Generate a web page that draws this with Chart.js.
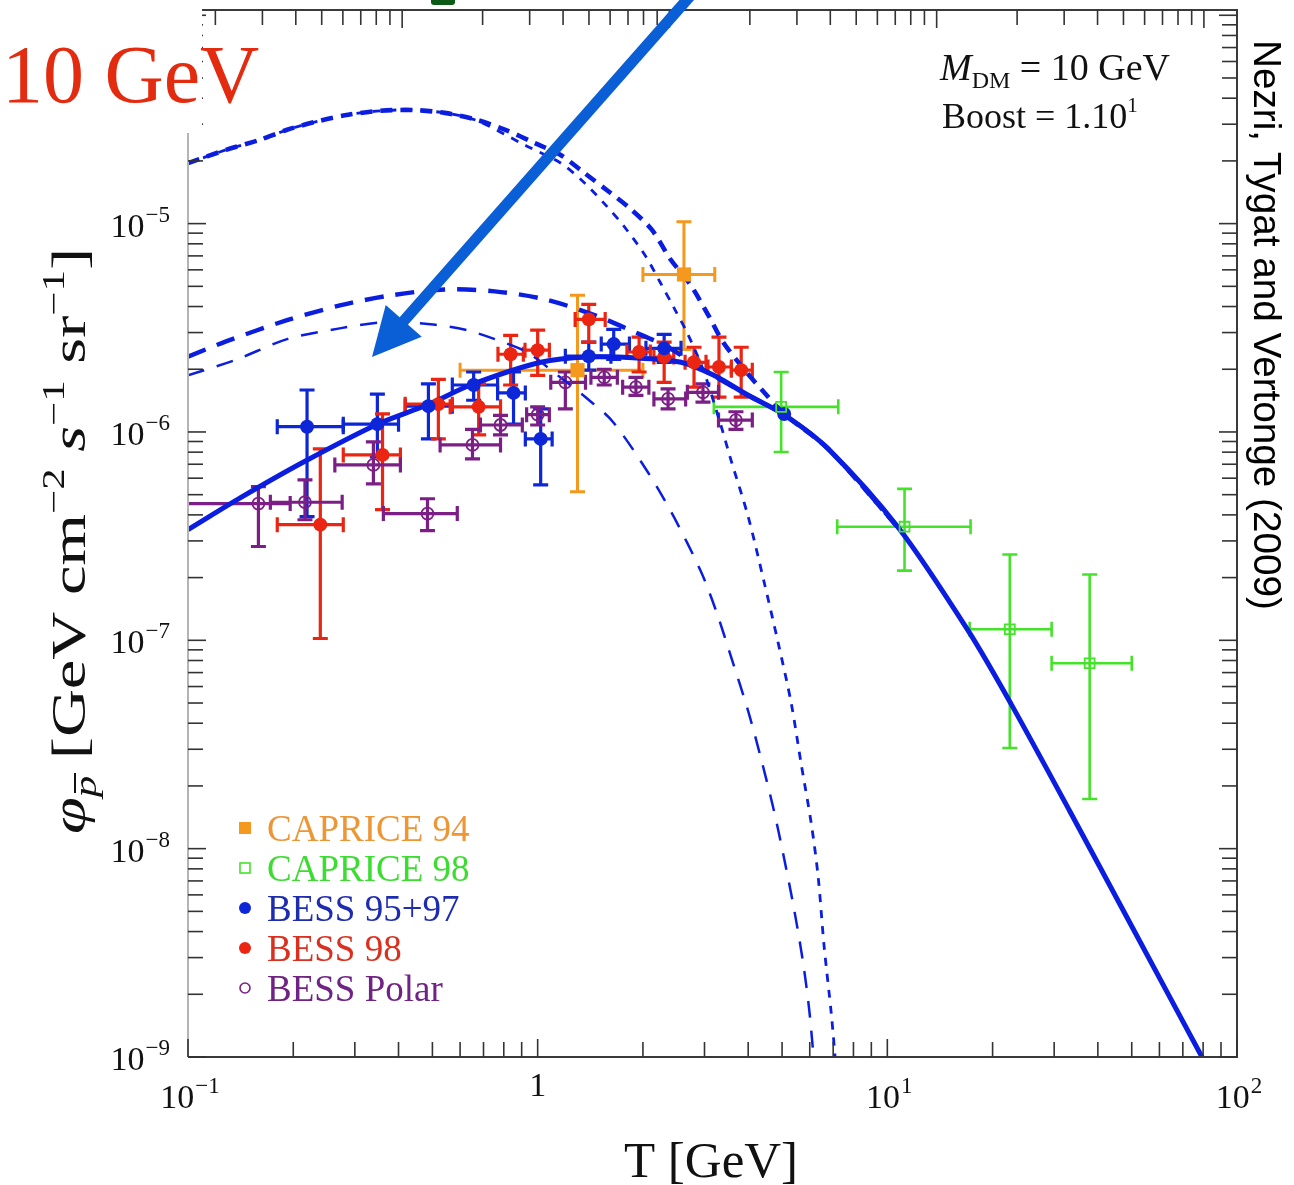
<!DOCTYPE html>
<html>
<head>
<meta charset="utf-8">
<script src="https://cdn.jsdelivr.net/npm/chart.js@4.4.0/dist/chart.umd.min.js"></script>
<style>
    html, body { margin: 0; padding: 0; background: #fff; }
    #wrap { position: relative; width: 1294px; height: 1185px; }
</style>
</head>
<body>
<div id="wrap"><canvas id="fluxChart" width="1294" height="1185"></canvas></div>
<script>
// ---- axis ranges ----
const xMin = 0.1, xMax = 100;
const yMin = 1e-9, yMax = 1.06e-4;
const xTickDecades = [-1, 0, 1, 2];
const yTickDecades = [-9, -8, -7, -6, -5];

// ---- model curves (T in GeV, flux) ----
const bgT = [0.1, 0.141, 0.214, 0.348, 0.484, 0.643, 1.02, 1.39, 1.97, 2.57, 3.19, 4.0, 5.07, 6.78, 10.8, 17.1, 22.6, 33.2, 50.0, 79.4, 90];
const bgFlux = [3.40e-7, 4.83e-7, 7.18e-7, 1.09e-6, 1.35e-6, 1.68e-6, 2.16e-6, 2.29e-6, 2.26e-6, 2.16e-6, 1.87e-6, 1.50e-6, 1.21e-6, 8.29e-7, 3.44e-7, 1.10e-7, 4.94e-8, 1.52e-8, 4.24e-9, 1.0e-9, 6.8e-10];

const medBgT = [0.1, 0.1285, 0.192, 0.274, 0.382, 0.542, 0.754, 1.05, 1.46, 1.90, 2.36, 2.93, 4.0, 5.07, 6.78, 10.8];
const medBgFlux = [2.30e-6, 2.72e-6, 3.44e-6, 4.06e-6, 4.53e-6, 4.83e-6, 4.73e-6, 4.33e-6, 3.63e-6, 3.01e-6, 2.55e-6, 2.02e-6, 1.50e-6, 1.21e-6, 8.29e-7, 3.44e-7];

const medT = [0.1, 0.138, 0.192, 0.274, 0.364, 0.493, 0.627, 0.754, 0.929, 1.16, 1.39, 1.64, 2.08, 2.45, 2.93, 3.24, 3.57, 4.00, 4.35, 4.74, 5.07, 5.42, 5.74, 5.98, 6.18];
const medFlux = [1.87e-6, 2.23e-6, 2.79e-6, 3.15e-6, 3.36e-6, 3.29e-6, 3.08e-6, 2.79e-6, 2.42e-6, 1.83e-6, 1.44e-6, 1.12e-6, 6.30e-7, 3.92e-7, 2.14e-7, 1.38e-7, 8.37e-8, 4.57e-8, 2.72e-8, 1.52e-8, 8.95e-9, 5.05e-9, 2.85e-9, 1.68e-9, 9.2e-10];

const maxBgT = [0.1, 0.1285, 0.160, 0.192, 0.237, 0.287, 0.355, 0.439, 0.542, 0.668, 0.809, 0.979, 1.16, 1.36, 1.61, 1.85, 2.12, 2.40, 2.73, 3.09, 3.39, 3.89, 4.44, 5.07, 6.78, 10.8];
const maxBgFlux = [1.95e-5, 2.26e-5, 2.52e-5, 2.82e-5, 3.11e-5, 3.33e-5, 3.48e-5, 3.51e-5, 3.40e-5, 3.15e-5, 2.82e-5, 2.44e-5, 2.14e-5, 1.75e-5, 1.41e-5, 1.17e-5, 9.35e-6, 6.73e-6, 5.11e-6, 3.59e-6, 2.70e-6, 2.00e-6, 1.55e-6, 1.22e-6, 8.29e-7, 3.44e-7];

const maxT = [0.1, 0.1285, 0.160, 0.192, 0.237, 0.287, 0.355, 0.439, 0.542, 0.668, 0.929, 1.16, 1.36, 1.57, 1.76, 2.03, 2.24, 2.45, 2.69, 2.99, 3.34, 3.57, 4.00, 4.44, 4.87, 5.31, 5.67, 6.06, 6.34, 6.59, 6.92, 7.14];
const maxFlux = [1.95e-5, 2.26e-5, 2.52e-5, 2.82e-5, 3.11e-5, 3.33e-5, 3.48e-5, 3.51e-5, 3.40e-5, 3.13e-5, 2.36e-5, 1.96e-5, 1.57e-5, 1.22e-5, 9.77e-6, 7.03e-6, 5.23e-6, 3.96e-6, 2.94e-6, 1.94e-6, 1.08e-6, 7.35e-7, 3.92e-7, 1.91e-7, 9.77e-8, 5.00e-8, 2.55e-8, 1.32e-8, 7.35e-9, 3.44e-9, 1.59e-9, 8.7e-10];

// ---- measurements ----
const seriesNames = ['CAPRICE 94', 'CAPRICE 98', 'BESS 95+97', 'BESS 98', 'BESS Polar'];

const c94T = [1.30, 2.62];
const c94TLo = [0.60, 2.00];
const c94THi = [2.00, 3.21];
const c94Flux = [1.98e-6, 5.70e-6];
const c94Lo = [5.16e-7, 2.49e-6];
const c94Hi = [4.53e-6, 1.02e-5];

const c98T = [4.97, 11.2, 22.4, 37.9];
const c98TLo = [3.19, 7.19, 17.2, 29.5];
const c98THi = [7.24, 17.3, 29.5, 50.0];
const c98Flux = [1.32e-6, 3.51e-7, 1.13e-7, 7.76e-8];
const c98Lo = [8.01e-7, 2.16e-7, 3.04e-8, 1.73e-8];
const c98Hi = [1.94e-6, 5.33e-7, 2.58e-7, 2.07e-7];

const b9597T = [0.219, 0.348, 0.487, 0.656, 0.853, 1.02, 1.40, 1.65, 2.30, 5.07];
const b9597TLo = [0.180, 0.278, 0.418, 0.570, 0.768, 0.922, 1.20, 1.52, 2.04, 5.07];
const b9597THi = [0.278, 0.400, 0.570, 0.768, 0.922, 1.10, 1.62, 1.83, 2.57, 5.07];
const b9597Flux = [1.06e-6, 1.09e-6, 1.33e-6, 1.68e-6, 1.54e-6, 9.26e-7, 2.31e-6, 2.64e-6, 2.52e-6, 1.22e-6];
const b9597Lo = [3.92e-7, 7.59e-7, 9.26e-7, 1.42e-6, 1.09e-6, 5.57e-7, 1.98e-6, 2.23e-6, 2.16e-6, 1.22e-6];
const b9597Hi = [1.59e-6, 1.52e-6, 1.70e-6, 1.94e-6, 1.94e-6, 1.29e-6, 2.70e-6, 3.11e-6, 2.94e-6, 1.22e-6];

const b98T = [0.239, 0.360, 0.52, 0.678, 0.837, 1.0, 1.40, 1.95, 2.30, 2.80, 3.30, 3.82];
const b98TLo = [0.180, 0.278, 0.418, 0.562, 0.77, 0.92, 1.28, 1.80, 2.15, 2.64, 3.07, 3.58];
const b98THi = [0.278, 0.405, 0.570, 0.783, 0.91, 1.08, 1.56, 2.10, 2.45, 3.03, 3.58, 4.11];
const b98Flux = [3.59e-7, 7.76e-7, 1.36e-6, 1.32e-6, 2.36e-6, 2.47e-6, 3.47e-6, 2.42e-6, 2.29e-6, 2.16e-6, 2.05e-6, 1.98e-6];
const b98Lo = [1.02e-7, 4.24e-7, 9.26e-7, 9.68e-7, 1.68e-6, 1.87e-6, 2.70e-6, 1.94e-6, 1.73e-6, 1.64e-6, 1.47e-6, 1.47e-6];
const b98Hi = [8.29e-7, 1.22e-6, 1.79e-6, 1.70e-6, 2.91e-6, 3.08e-6, 4.10e-6, 2.85e-6, 2.70e-6, 2.55e-6, 2.85e-6, 2.55e-6];

const bPolT = [0.159, 0.216, 0.339, 0.484, 0.651, 0.783, 1.0, 1.20, 1.55, 1.91, 2.36, 2.97, 3.69];
const bPolTLo = [0.09, 0.172, 0.263, 0.362, 0.526, 0.686, 0.93, 1.09, 1.42, 1.75, 2.15, 2.68, 3.29];
const bPolTHi = [0.196, 0.276, 0.405, 0.589, 0.783, 0.904, 1.08, 1.37, 1.69, 2.08, 2.65, 3.29, 4.11];
const bPolFlux = [4.53e-7, 4.6e-7, 6.95e-7, 4.06e-7, 8.67e-7, 1.08e-6, 1.21e-6, 1.73e-6, 1.83e-6, 1.64e-6, 1.44e-6, 1.55e-6, 1.14e-6];
const bPolLo = [2.82e-7, 3.79e-7, 5.64e-7, 3.36e-7, 7.43e-7, 9.68e-7, 1.08e-6, 1.29e-6, 1.68e-6, 1.50e-6, 1.29e-6, 1.39e-6, 1.03e-6];
const bPolHi = [5.46e-7, 5.89e-7, 8.96e-7, 4.78e-7, 1.03e-6, 1.20e-6, 1.32e-6, 1.94e-6, 2.00e-6, 1.83e-6, 1.61e-6, 1.70e-6, 1.25e-6];

// ---- styles ----
const SERIF = "'Liberation Serif', 'Times New Roman', serif";
const SANS = "'Liberation Sans', Arial, sans-serif";
const CURVE_BLUE = '#0b1ee0';
const ORANGE = '#f5981e', GREEN = '#45e22a', BLUE = '#0d26d8', RED = '#ea2512', PURPLE = '#7b1f86';
const legendText = ['#ec9636', '#3ddc33', '#1e2cb0', '#d9301f', '#6f2384'];

function pts(xs, ys) {
    return xs.map((x, i) => ({ x: x, y: ys[i] }));
}

function curve(label, xs, ys, width, dash) {
    return {
        label: label, data: pts(xs, ys), showLine: true, pointRadius: 0,
        borderColor: CURVE_BLUE, borderWidth: width, borderDash: dash,
        tension: 0.3, fill: false
    };
}

function measured(label, T, TLo, THi, F, FLo, FHi, color, style, radius, filled, errWidth) {
    return {
        label: label, data: pts(T, F),
        errX: [TLo, THi], errY: [FLo, FHi], errColor: color, errWidth: errWidth,
        pointStyle: style, pointRadius: radius,
        pointBackgroundColor: filled ? color : 'rgba(255,255,255,0)',
        pointBorderColor: color, pointBorderWidth: filled ? 0 : 1.8
    };
}

// error bars with caps, under everything else
const errorBarPlugin = {
    id: 'errorBars',
    beforeDatasetsDraw(chart) {
        const { ctx, chartArea: a, scales: { x, y } } = chart;
        ctx.save();
        ctx.beginPath();
        ctx.rect(a.left, a.top, a.right - a.left, a.bottom - a.top);
        ctx.clip();
        chart.data.datasets.forEach(ds => {
            if (!ds.errX) return;
            ctx.strokeStyle = ds.errColor;
            ctx.lineWidth = ds.errWidth;
            ds.data.forEach((p, j) => {
                const px = x.getPixelForValue(p.x), py = y.getPixelForValue(p.y);
                const x0 = x.getPixelForValue(ds.errX[0][j]), x1 = x.getPixelForValue(ds.errX[1][j]);
                const y0 = y.getPixelForValue(ds.errY[0][j]), y1 = y.getPixelForValue(ds.errY[1][j]);
                const c = 7.5;
                ctx.beginPath();
                if (x1 - x0 > 1) {
                    ctx.moveTo(x0, py); ctx.lineTo(x1, py);
                    ctx.moveTo(x0, py - c); ctx.lineTo(x0, py + c);
                    ctx.moveTo(x1, py - c); ctx.lineTo(x1, py + c);
                }
                if (y0 - y1 > 1) {
                    ctx.moveTo(px, y0); ctx.lineTo(px, y1);
                    ctx.moveTo(px - c, y0); ctx.lineTo(px + c, y0);
                    ctx.moveTo(px - c, y1); ctx.lineTo(px + c, y1);
                }
                ctx.stroke();
            });
        });
        ctx.restore();
    }
};

function logTicks(min, max) {
    const out = [];
    for (let e = Math.floor(Math.log10(min)); e <= Math.ceil(Math.log10(max)); e++) {
        for (let m = 1; m <= 9; m++) {
            const v = m * Math.pow(10, e);
            if (v >= min * 0.999 && v <= max * 1.001) out.push({ v: v, major: m === 1 });
        }
    }
    return out;
}

function seg(ctx, x0, y0, x1, y1) {
    ctx.beginPath(); ctx.moveTo(x0, y0); ctx.lineTo(x1, y1); ctx.stroke();
}

function textW(ctx, s, font) {
    ctx.font = font;
    return ctx.measureText(s).width;
}

// "10" with a raised exponent
function drawPow(ctx, base, exp, x, baseline, align) {
    const fb = '34px ' + SERIF, fe = '23px ' + SERIF;
    const wb = textW(ctx, base, fb), we = exp ? textW(ctx, exp, fe) + 1 : 0;
    const start = align === 'right' ? x - wb - we : x - (wb + we) / 2;
    ctx.textAlign = 'left';
    ctx.font = fb; ctx.fillText(base, start, baseline);
    if (exp) { ctx.font = fe; ctx.fillText(exp, start + wb + 1, baseline - 15); }
}

// run of text pieces with their own font and vertical offset
function drawRun(ctx, parts, x, baseline) {
    let cx = x;
    parts.forEach(p => {
        ctx.font = p.font;
        const w = ctx.measureText(p.t).width;
        ctx.fillText(p.t, cx, baseline + (p.dy || 0));
        if (p.bar) {
            ctx.lineWidth = 2;
            seg(ctx, cx + 3, baseline + p.dy - 21, cx + w + 2, baseline + p.dy - 21);
        }
        cx += w;
    });
    return cx - x;
}

function runWidth(ctx, parts) {
    return parts.reduce((s, p) => s + textW(ctx, p.t, p.font), 0);
}

const framePlugin = {
    id: 'frame',
    afterDatasetsDraw(chart) {
        const { ctx, chartArea: a, scales } = chart;
        const x = scales.x, y = scales.y, xt = scales.xTop;
        ctx.save();

        // frame
        ctx.lineWidth = 2;
        ctx.strokeStyle = '#3a3a3a';
        ctx.beginPath();
        ctx.moveTo(a.left, a.bottom); ctx.lineTo(a.right, a.bottom);
        ctx.lineTo(a.right, a.top); ctx.lineTo(a.left, a.top);
        ctx.stroke();
        ctx.strokeStyle = '#b4b4b4';
        seg(ctx, a.left, a.top, a.left, a.bottom);

        // inward ticks
        ctx.strokeStyle = '#333';
        ctx.lineWidth = 1.6;
        logTicks(xMin, xMax).forEach(t => {
            const px = x.getPixelForValue(t.v);
            seg(ctx, px, a.bottom, px, a.bottom - (t.major ? 18 : 15));
        });
        logTicks(yMin, yMax).forEach(t => {
            const py = y.getPixelForValue(t.v);
            if (py < a.top + 1) return;
            const len = t.major ? 18 : 15;
            seg(ctx, a.left, py, a.left + len, py);
            seg(ctx, a.right, py, a.right - len, py);
        });
        logTicks(xt.min, xt.max).forEach(t => {
            const px = xt.getPixelForValue(t.v);
            seg(ctx, px, a.top, px, a.top + (t.major ? 18 : 15));
        });

        // tick labels
        ctx.fillStyle = '#111';
        ctx.textBaseline = 'alphabetic';
        yTickDecades.forEach(e => {
            const py = y.getPixelForValue(Math.pow(10, e));
            drawPow(ctx, '10', '\u2212' + Math.abs(e), 170, py + 13, 'right');
        });
        xTickDecades.forEach(e => {
            const px = x.getPixelForValue(Math.pow(10, e));
            if (e === 0) drawPow(ctx, '1', '', px, 1096, 'center');
            else drawPow(ctx, '10', (e < 0 ? '\u2212' : '') + Math.abs(e), px + 2, 1108, 'center');
        });

        // axis titles
        ctx.font = '51px ' + SERIF;
        ctx.textAlign = 'center';
        ctx.fillText('T [GeV]', 711, 1177);

        // y title: stretched along its length like the original
        const yTitle = [
            { t: '\u03c6', font: 'italic 48px ' + SERIF },
            { t: 'p', font: 'italic 31px ' + SERIF, dy: 11, bar: true },
            { t: ' [GeV cm', font: '48px ' + SERIF },
            { t: '\u22122', font: '31px ' + SERIF, dy: -21 },
            { t: ' ', font: '48px ' + SERIF },
            { t: 's', font: 'italic 48px ' + SERIF },
            { t: '\u22121', font: '31px ' + SERIF, dy: -21 },
            { t: ' sr', font: '48px ' + SERIF },
            { t: '\u22121', font: '31px ' + SERIF, dy: -21 },
            { t: ']', font: '48px ' + SERIF }
        ];
        const titleLen = 586;
        const natural = runWidth(ctx, yTitle);
        ctx.save();
        ctx.translate(85, 541);
        ctx.rotate(-Math.PI / 2);
        ctx.scale(titleLen / natural, 1);
        ctx.textAlign = 'left';
        ctx.strokeStyle = '#111';
        drawRun(ctx, yTitle, -natural / 2, 0);
        ctx.restore();

        // annotation
        ctx.textAlign = 'left';
        drawRun(ctx, [
            { t: 'M', font: 'italic 38px ' + SERIF },
            { t: 'DM', font: '24px ' + SERIF, dy: 8 },
            { t: ' = 10 GeV', font: '38px ' + SERIF }
        ], 940, 80);
        drawRun(ctx, [
            { t: 'Boost = 1.10', font: '36px ' + SERIF },
            { t: '1', font: '21px ' + SERIF, dy: -16 }
        ], 942, 128);

        // legend
        const lx = 245, ly0 = 828, step = 40;
        seriesNames.forEach((name, i) => {
            const cy = ly0 + i * step;
            ctx.fillStyle = legendText[i];
            ctx.font = '37px ' + SERIF;
            ctx.fillText(name, 267, cy + 13);
        });
        ctx.fillStyle = ORANGE;
        ctx.fillRect(lx - 6, ly0 - 6, 12, 12);
        ctx.strokeStyle = GREEN; ctx.lineWidth = 1.6;
        ctx.strokeRect(lx - 5, ly0 + step - 5, 10, 10);
        ctx.fillStyle = BLUE;
        ctx.beginPath(); ctx.arc(lx, ly0 + 2 * step, 6, 0, Math.PI * 2); ctx.fill();
        ctx.fillStyle = RED;
        ctx.beginPath(); ctx.arc(lx, ly0 + 3 * step, 6, 0, Math.PI * 2); ctx.fill();
        ctx.strokeStyle = PURPLE; ctx.lineWidth = 1.6;
        ctx.beginPath(); ctx.arc(lx, ly0 + 4 * step, 5, 0, Math.PI * 2); ctx.stroke();

        ctx.restore();
    },
    afterDraw(chart) {
        const ctx = chart.ctx;
        ctx.save();

        // pasted label over the top-left corner
        ctx.fillStyle = '#fff';
        ctx.fillRect(0, 0, 202, 133);
        ctx.fillStyle = '#e32b10';
        ctx.font = '82px ' + SERIF;
        ctx.textAlign = 'left';
        ctx.fillText('10 GeV', 2, 102);

        // green mark at the top edge
        ctx.fillStyle = '#0b5a16';
        ctx.beginPath();
        ctx.roundRect(431, -6, 24, 11, 3);
        ctx.fill();

        // arrow
        const tip = [372, 357], tail = [692, -6];
        const dx = tip[0] - tail[0], dy = tip[1] - tail[1];
        const len = Math.hypot(dx, dy), ux = dx / len, uy = dy / len;
        const head = 48, half = 24;
        const bx = tip[0] - head * ux, by = tip[1] - head * uy;
        ctx.strokeStyle = '#0a5fd6';
        ctx.fillStyle = '#0a5fd6';
        ctx.lineWidth = 11;
        seg(ctx, tail[0], tail[1], bx + 4 * ux, by + 4 * uy);
        ctx.beginPath();
        ctx.moveTo(tip[0], tip[1]);
        ctx.lineTo(bx - half * uy, by + half * ux);
        ctx.lineTo(bx + half * uy, by - half * ux);
        ctx.closePath();
        ctx.fill();

        // credit, rotated
        const credit = 'Nezri, Tygat and Vertonge (2009)';
        ctx.save();
        ctx.translate(1254, 325);
        ctx.rotate(Math.PI / 2);
        ctx.fillStyle = '#000';
        const fs = 32 * 570 / textW(ctx, credit, '32px ' + SANS);
        ctx.font = fs.toFixed(1) + 'px ' + SANS;
        ctx.textAlign = 'center';
        ctx.fillText(credit, 0, 0);
        ctx.restore();

        ctx.restore();
    }
};

const datasets = [
    measured(seriesNames[0], c94T, c94TLo, c94THi, c94Flux, c94Lo, c94Hi, ORANGE, 'rect', 10, true, 3),
    measured(seriesNames[1], c98T, c98TLo, c98THi, c98Flux, c98Lo, c98Hi, GREEN, 'rect', 7, false, 2.6),
    measured(seriesNames[2], b9597T, b9597TLo, b9597THi, b9597Flux, b9597Lo, b9597Hi, BLUE, 'circle', 7, true, 3.2),
    measured(seriesNames[3], b98T, b98TLo, b98THi, b98Flux, b98Lo, b98Hi, RED, 'circle', 7, true, 3.2),
    measured(seriesNames[4], bPolT, bPolTLo, bPolTHi, bPolFlux, bPolLo, bPolHi, PURPLE, 'circle', 6, false, 3.2),
    curve('background', bgT, bgFlux, 5, []),
    curve('MED + background', medBgT, medBgFlux, 4.4, [19, 12]),
    curve('MED', medT, medFlux, 2.5, [17, 13]),
    curve('MAX + background', maxBgT, maxBgFlux, 4.6, [12, 8]),
    curve('MAX', maxT, maxFlux, 2.8, [8, 8])
];

new Chart(document.getElementById('fluxChart'), {
    type: 'scatter',
    data: { datasets: datasets },
    options: {
        responsive: false,
        animation: false,
        devicePixelRatio: 1,
        events: [],
        layout: { padding: { left: 188, right: 57, top: 7, bottom: 128 } },
        scales: {
            x: { type: 'logarithmic', min: xMin, max: xMax, display: false },
            y: { type: 'logarithmic', min: yMin, max: yMax, display: false },
            xTop: { type: 'logarithmic', axis: 'x', position: 'top', min: 1.58, max: 13300, display: false }
        },
        plugins: { legend: { display: false }, tooltip: { enabled: false } }
    },
    plugins: [errorBarPlugin, framePlugin]
});
</script>
</body>
</html>
